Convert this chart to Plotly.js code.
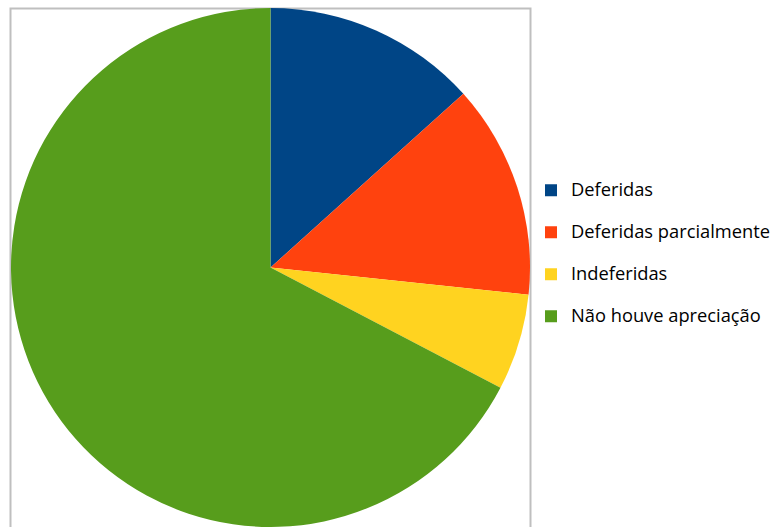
<!DOCTYPE html>
<html>
<head>
<meta charset="utf-8">
<script src="https://cdn.plot.ly/plotly-3.0.1.min.js"></script>
<style>html,body{margin:0;padding:0;background:#fff;}#chart{width:772px;height:527px;}</style>
</head>
<body>
<div id="chart"></div>
<script>
const categories = ["Deferidas", "Deferidas parcialmente", "Indeferidas", "Não houve apreciação"];
const values = [20, 20, 9, 101];
const colors = ["#004586", "#ff420e", "#ffd320", "#579d1c"];

const W = 772, H = 527;
// legend labels built from the category names; the extra blank line widens the row spacing
const legendLabels = categories.map(c => '<span style="font-size:18.3px">' + c + '</span><br> ');

const data = [{
  type: "pie",
  labels: legendLabels,
  values: values,
  sort: false,
  direction: "clockwise",
  rotation: 0,
  textinfo: "none",
  hoverinfo: "percent",
  marker: {colors: colors, line: {width: 0}},
  domain: {x: [10.5 / W, 530.5 / W], y: [0, (H - 8) / H]}
}];

const layout = {
  width: W, height: H,
  margin: {l: 0, r: 0, t: 0, b: 0, autoexpand: false},
  paper_bgcolor: "#ffffff",
  showlegend: true,
  legend: {
    x: 531 / W, y: (H - 174) / H, xanchor: "left", yanchor: "top",
    valign: "top",
    font: {family: "Open Sans", size: 15, color: "#000000"},
    bgcolor: "rgba(0,0,0,0)",
    tracegroupgap: 0
  },
  shapes: [{
    type: "rect", xref: "paper", yref: "paper", layer: "below",
    x0: 10.5 / W, x1: 530.5 / W, y0: -0.05, y1: (H - 8.5) / H,
    line: {color: "#bfbfbf", width: 2}, fillcolor: "rgba(0,0,0,0)"
  }]
};

Plotly.newPlot("chart", data, layout, {displayModeBar: false, staticPlot: true});
</script>
</body>
</html>
